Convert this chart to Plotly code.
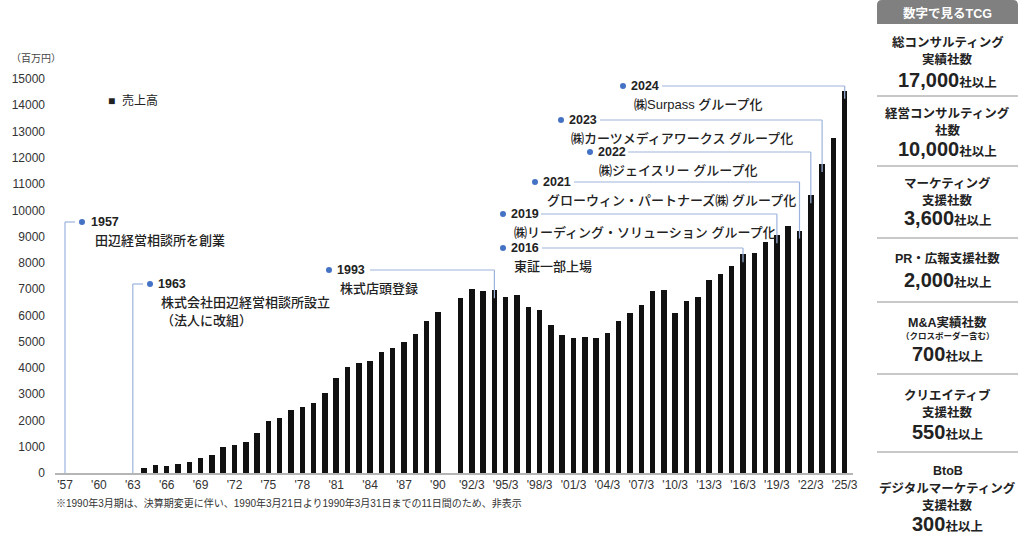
import plotly.graph_objects as go

# ---------------- data ----------------
categories = [
    "'57", "'58", "'59", "'60", "'61", "'62", "'63", "'64", "'65", "'66",
    "'67", "'68", "'69", "'70", "'71", "'72", "'73", "'74", "'75", "'76",
    "'77", "'78", "'79", "'80", "'81", "'82", "'83", "'84", "'85", "'86",
    "'87", "'88", "'89", "'90", "'90/3",
    "'91/3", "'92/3", "'93/3", "'94/3", "'95/3", "'96/3", "'97/3", "'98/3",
    "'99/3", "'00/3", "'01/3", "'02/3", "'03/3", "'04/3", "'05/3", "'06/3",
    "'07/3", "'08/3", "'09/3", "'10/3", "'11/3", "'12/3", "'13/3", "'14/3",
    "'15/3", "'16/3", "'17/3", "'18/3", "'19/3", "'20/3", "'21/3", "'22/3",
    "'23/3", "'24/3", "'25/3",
]

sales = [
    None, None, None, None, None, None, None,          # '57-'63
    200, 300, 280, 330, 420, 590, 700, 975, 1050, 1180,  # '64-'73
    1535, 1980, 2105, 2400, 2500, 2680, 3060, 3615, 4035, 4185,  # '74-'83
    4250, 4605, 4745, 4985, 5275, 5800, 6130,          # '84-'90
    None,                                              # '90/3 (hidden)
    6660, 7005, 6930, 6950, 6700, 6790, 6330, 6215, 5645, 5240,  # '91/3-'00/3
    5125, 5175, 5150, 5340, 5800, 6075, 6405, 6915, 6950, 6090,  # '01/3-'10/3
    6560, 6700, 7330, 7585, 7880, 8320, 8385, 8790, 9045, 9400,  # '11/3-'20/3
    9225, 10570, 11760, 12740, 14550,                  # '21/3-'25/3
]

tick_labels = [
    "'57", "'60", "'63", "'66", "'69", "'72", "'75", "'78", "'81", "'84",
    "'87", "'90", "'92/3", "'95/3", "'98/3", "'01/3", "'04/3", "'07/3",
    "'10/3", "'13/3", "'16/3", "'19/3", "'22/3", "'25/3",
]

y_ticks = [0, 1000, 2000, 3000, 4000, 5000, 6000, 7000, 8000, 9000,
           10000, 11000, 12000, 13000, 14000, 15000]

event_years = ["1957", "1963", "1993", "2016", "2019", "2021", "2022", "2023", "2024"]
event_texts = [
    ["田辺経営相談所を創業"],
    ["株式会社田辺経営相談所設立", "（法人に改組）"],
    ["株式店頭登録"],
    ["東証一部上場"],
    ["㈱リーディング・ソリューション グループ化"],
    ["グローウィン・パートナーズ㈱ グループ化"],
    ["㈱ジェイスリー グループ化"],
    ["㈱カーツメディアワークス グループ化"],
    ["㈱Surpass グループ化"],
]
event_targets = ["'57", "'63", "'94/3", "'16/3", "'19/3", "'21/3", "'22/3", "'23/3", "'25/3"]

panel_title = "数字で見るTCG"
panel_labels = [
    ["総コンサルティング", "実績社数"],
    ["経営コンサルティング", "社数"],
    ["マーケティング", "支援社数"],
    ["PR・広報支援社数"],
    ["M&A実績社数"],
    ["クリエイティブ", "支援社数"],
    ["BtoB", "デジタルマーケティング", "支援社数"],
]
panel_numbers = ["17,000", "10,000", "3,600", "2,000", "700", "550", "300"]
panel_suffix = "社以上"

# ---------------- layout geometry (pixels) ----------------
W, H = 1024, 545
L, R, T, B = 55, 853, 79, 473
X_STEP = 11.3
X0_PX = 65  # pixel centre of first category
xr0 = -(X0_PX - L) / X_STEP
xr1 = xr0 + (R - L) / X_STEP
YMAX = 15000

def dx(px):
    return xr0 + (px - L) / X_STEP

def dy(py):
    return (B - py) / (B - T) * YMAX

def px_(px):
    return (px - L) / (R - L)

def py_(py):
    return (B - py) / (B - T)

FONT = "Liberation Sans, Arial, Noto Sans CJK JP, sans-serif"
TXT = "#222222"
LINE_C = "#9db3dd"
DOT_C = "#4472c4"

fig = go.Figure()
fig.add_trace(go.Bar(
    x=categories, y=sales, width=0.48,
    marker=dict(color="#111111", line=dict(width=0)),
    name="売上高", showlegend=False, hoverinfo="x+y",
))

shapes = []
annotations = []

event_pos = [
    dict(dot=82, lvl=222, ls=75, yt=89, dsc=93),
    dict(dot=150, lvl=284, ls=143, yt=156, dsc=159),
    dict(dot=329, lvl=270, ls=370, yt=335, dsc=338),
    dict(dot=503, lvl=248, ls=542, yt=509, dsc=512),
    dict(dot=503, lvl=214, ls=541, yt=509, dsc=512),
    dict(dot=535, lvl=182, ls=574, yt=541, dsc=545),
    dict(dot=590, lvl=152, ls=628, yt=596, dsc=597),
    dict(dot=561, lvl=120, ls=600, yt=567, dsc=569),
    dict(dot=623, lvl=86, ls=662, yt=629, dsc=632),
]

for yr, desc, tgt, p in zip(event_years, event_texts, event_targets, event_pos):
    ti = categories.index(tgt)
    v = sales[ti]
    bottom = 0 if v is None else v - 300
    lvl = dy(p["lvl"])
    shapes.append(dict(type="line", xref="x", yref="y", x0=ti, x1=ti, y0=bottom, y1=lvl,
                       line=dict(color=LINE_C, width=1.2), layer="above"))
    shapes.append(dict(type="line", xref="x", yref="y", x0=ti, x1=dx(p["ls"]), y0=lvl, y1=lvl,
                       line=dict(color=LINE_C, width=1.2), layer="above"))
    shapes.append(dict(type="circle", xref="paper", yref="paper",
                       xsizemode="pixel", ysizemode="pixel",
                       xanchor=px_(p["dot"]), yanchor=py_(p["lvl"]),
                       x0=-3, x1=3, y0=-3, y1=3,
                       fillcolor=DOT_C, line=dict(width=0)))
    annotations.append(dict(xref="paper", yref="paper", x=px_(p["yt"]), y=py_(p["lvl"]),
                            xanchor="left", yanchor="middle", showarrow=False,
                            text="<b>" + yr + "</b>", font=dict(size=12.5, color=TXT, family=FONT)))
    for k, line in enumerate(desc):
        annotations.append(dict(xref="paper", yref="paper", x=px_(p["dsc"]),
                                y=py_(p["lvl"] + 18.5 + 18 * k),
                                xanchor="left", yanchor="middle", showarrow=False,
                                text=line, font=dict(size=13, color=TXT, family=FONT, weight=500)))

annotations.append(dict(xref="paper", yref="paper", x=px_(9), y=py_(58), xanchor="left",
                        yanchor="middle", showarrow=False, text="（百万円）",
                        font=dict(size=10, color="#444444", family=FONT)))
annotations.append(dict(xref="paper", yref="paper", x=px_(106), y=py_(100), xanchor="left",
                        yanchor="middle", showarrow=False, text="■  売上高",
                        font=dict(size=12, color=TXT, family=FONT)))
annotations.append(dict(xref="paper", yref="paper", x=px_(54), y=py_(503), xanchor="left",
                        yanchor="middle", showarrow=False,
                        text="※1990年3月期は、決算期変更に伴い、1990年3月21日より1990年3月31日までの11日間のため、非表示",
                        font=dict(size=10, color="#333333", family=FONT)))

# ---------------- right panel ----------------
PL, PR = 877, 1018
PC = (PL + PR) / 2
r = 5
hb = 24
path = (f"M {px_(PL)},{py_(hb)} L {px_(PL)},{py_(r)} Q {px_(PL)},{py_(0)} {px_(PL + r)},{py_(0)} "
        f"L {px_(PR - r)},{py_(0)} Q {px_(PR)},{py_(0)} {px_(PR)},{py_(r)} L {px_(PR)},{py_(hb)} Z")
shapes.append(dict(type="path", xref="paper", yref="paper", path=path,
                   fillcolor="#808080", line=dict(width=0)))
annotations.append(dict(xref="paper", yref="paper", x=px_(PC), y=py_(13), xanchor="center",
                        yanchor="middle", showarrow=False, text="<b>" + panel_title + "</b>",
                        font=dict(size=12.5, color="white", family=FONT)))

label_rows = [[43, 60], [113, 130], [183, 200], [258], [322], [395, 412], [471, 488, 505]]
number_rows = [80, 149, 218, 280, 354, 432, 524]
sep_rows = [96, 166, 238, 302, 374, 452]

for labels, ys, num, ny in zip(panel_labels, label_rows, panel_numbers, number_rows):
    for t, yy in zip(labels, ys):
        annotations.append(dict(xref="paper", yref="paper", x=px_(PC), y=py_(yy),
                                xanchor="center", yanchor="middle", showarrow=False,
                                text="<b>" + t + "</b>",
                                font=dict(size=12.5, color=TXT, family=FONT)))
    annotations.append(dict(xref="paper", yref="paper", x=px_(PC), y=py_(ny),
                            xanchor="center", yanchor="middle", showarrow=False,
                            text="<b><span style='font-size:20px'>" + num + "</span>" + panel_suffix + "</b>",
                            font=dict(size=12.5, color=TXT, family=FONT)))
annotations.append(dict(xref="paper", yref="paper", x=px_(PC), y=py_(336),
                        xanchor="center", yanchor="middle", showarrow=False,
                        text="<b>（クロスボーダー含む）</b>",
                        font=dict(size=8.5, color=TXT, family=FONT)))
for sy in sep_rows:
    shapes.append(dict(type="line", xref="paper", yref="paper", x0=px_(PL), x1=px_(PR),
                       y0=py_(sy), y1=py_(sy), line=dict(color="#c8c8c8", width=2)))

fig.update_layout(
    width=W, height=H,
    margin=dict(l=L, r=W - R, t=T, b=H - B, pad=0),
    paper_bgcolor="white", plot_bgcolor="white",
    font=dict(family=FONT, color="#333333"),
    showlegend=False, bargap=0,
    shapes=shapes, annotations=annotations,
    xaxis=dict(type="category", range=[xr0, xr1], tickmode="array",
               tickvals=tick_labels, ticktext=tick_labels, ticks="",
               showgrid=False, showline=True, linecolor="#b5b5b5", linewidth=1.5,
               tickfont=dict(size=12, color="#333333", family=FONT), tickangle=0,
               zeroline=False, fixedrange=True),
    yaxis=dict(range=[0, YMAX], tickmode="array", tickvals=y_ticks,
               ticktext=[str(v) for v in y_ticks], ticks="", showgrid=False,
               showline=False, zeroline=False, ticklabelstandoff=9,
               tickfont=dict(size=12, color="#333333", family=FONT), fixedrange=True),
)

fig.write_html("out.html", config={"displayModeBar": False},
               post_script="document.body.style.margin='0';document.body.style.overflow='hidden';")
